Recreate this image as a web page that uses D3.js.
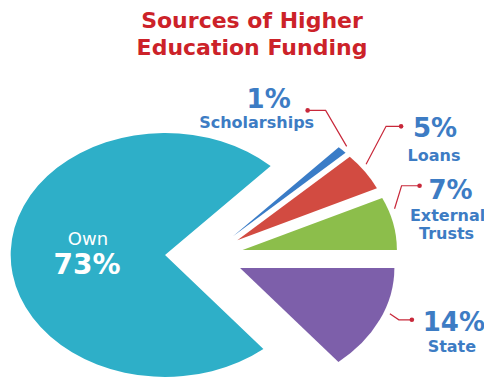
<!DOCTYPE html>
<html lang="en">
<head>
  <meta charset="UTF-8">
  <title>Sources of Higher Education Funding</title>
  <script src="https://d3js.org/d3.v7.min.js"></script>
  <style>
    body { margin: 0; background: #fff; }
    text { font-family: "DejaVu Sans", Verdana, sans-serif; font-weight: bold; }
    .title { fill: #cc2229; font-size: 22px; }
    .pct { fill: #3d7cc4; font-size: 26px; }
    .name { fill: #3d7cc4; font-size: 16px; }
    .leader { fill: none; stroke: #c8283a; stroke-width: 1.2px; }
  </style>
</head>
<body>
<svg id="chart" width="484" height="381"></svg>
<script>
  // data
  const categories = ["Own", "Scholarships", "Loans", "External Trusts", "State"];
  const shares = [73, 1, 5, 7, 14];
  const sliceColors = ["#2eafc8", "#3a7cc7", "#d24b41", "#8cbe4b", "#7d5faa"];
  const titleLines = ["Sources of Higher", "Education Funding"];

  const svg = d3.select("#chart");
  const center = { x: 208, y: 256 };
  const radius = 122;
  const stretch = 1.265;   // the original graphic is wider than tall

  // pie starts so that "State" sits right below 3 o'clock
  const stateShare = shares[categories.indexOf("State")] / 100;
  const start = Math.PI / 2 + stateShare * 2 * Math.PI;
  const pie = d3.pie().sort(null).value(d => d.value)
    .startAngle(start).endAngle(start + 2 * Math.PI);
  const arc = d3.arc().innerRadius(0).outerRadius(radius);

  const slices = pie(categories.map((c, i) => ({ name: c, value: shares[i], color: sliceColors[i] })));

  const explode = d => d.data.name === "Own" ? 34 : 28;
  const mid = d => (d.startAngle + d.endAngle) / 2;
  // point in un-stretched pie coords -> screen
  const toScreen = (x, y) => [center.x + x * stretch, center.y + y];

  svg.selectAll("text.title").data(titleLines)
    .join("text")
    .attr("class", "title")
    .attr("x", 252)
    .attr("y", (d, i) => 28 + i * 27)
    .attr("text-anchor", "middle")
    .text(d => d);

  const pieG = svg.append("g")
    .attr("transform", `translate(${center.x},${center.y}) scale(${stretch},1)`);

  pieG.selectAll("path").data(slices)
    .join("path")
    .attr("transform", d => `translate(${explode(d) * Math.sin(mid(d))},${-explode(d) * Math.cos(mid(d))})`)
    .attr("d", arc)
    .attr("fill", d => d.data.color);

  // Own label inside the big slice
  const own = slices[0];
  svg.append("text")
    .attr("x", 88).attr("y", 245)
    .attr("text-anchor", "middle")
    .attr("fill", "#fff")
    .style("font-size", "18px").style("font-weight", "normal")
    .text(own.data.name);
  svg.append("text")
    .attr("x", 87).attr("y", 274)
    .attr("text-anchor", "middle")
    .attr("fill", "#fff")
    .style("font-size", "28px")
    .text(own.data.value + "%");

  // leader layout for the small slices
  const layout = {
    "Scholarships":    { at: 0.5,  elbow: [-21, -36], run: -18, pct: [-39, -2], names: [[-51, 18]] },
    "Loans":           { at: 0.36, elbow: [20, -38],  run: 15,  pct: [34, 11],  names: [[33, 35]] },
    "External Trusts": { at: 0.25, elbow: [7, -23],   run: 18,  pct: [31, 13],  names: [[28, 35], [27, 53]] },
    "State":           { at: 0.42, elbow: [9, 6],     run: 13,  pct: [42, 11],  names: [[40, 32]] }
  };

  slices.filter(d => layout[d.data.name]).forEach(d => {
    const L = layout[d.data.name];
    const m = mid(d), e = explode(d);
    const a = d.startAngle + (d.endAngle - d.startAngle) * L.at;
    const r = radius + 5;
    const p0 = toScreen(e * Math.sin(m) + r * Math.sin(a), -e * Math.cos(m) - r * Math.cos(a));
    const p1 = [p0[0] + L.elbow[0], p0[1] + L.elbow[1]];
    const p2 = [p1[0] + L.run, p1[1]];

    svg.append("path").attr("class", "leader")
      .attr("d", d3.line()([p0, p1, p2]));
    svg.append("circle")
      .attr("cx", p2[0]).attr("cy", p2[1]).attr("r", 2.3)
      .attr("fill", "#c8283a");

    svg.append("text").attr("class", "pct")
      .attr("x", p2[0] + L.pct[0]).attr("y", p2[1] + L.pct[1])
      .attr("text-anchor", "middle")
      .text(d.data.value + "%");

    const words = L.names.length > 1 ? d.data.name.split(" ") : [d.data.name];
    words.forEach((w, i) => {
      svg.append("text").attr("class", "name")
        .attr("x", p2[0] + L.names[i][0]).attr("y", p2[1] + L.names[i][1])
        .attr("text-anchor", "middle")
        .text(w);
    });
  });
</script>
</body>
</html>
